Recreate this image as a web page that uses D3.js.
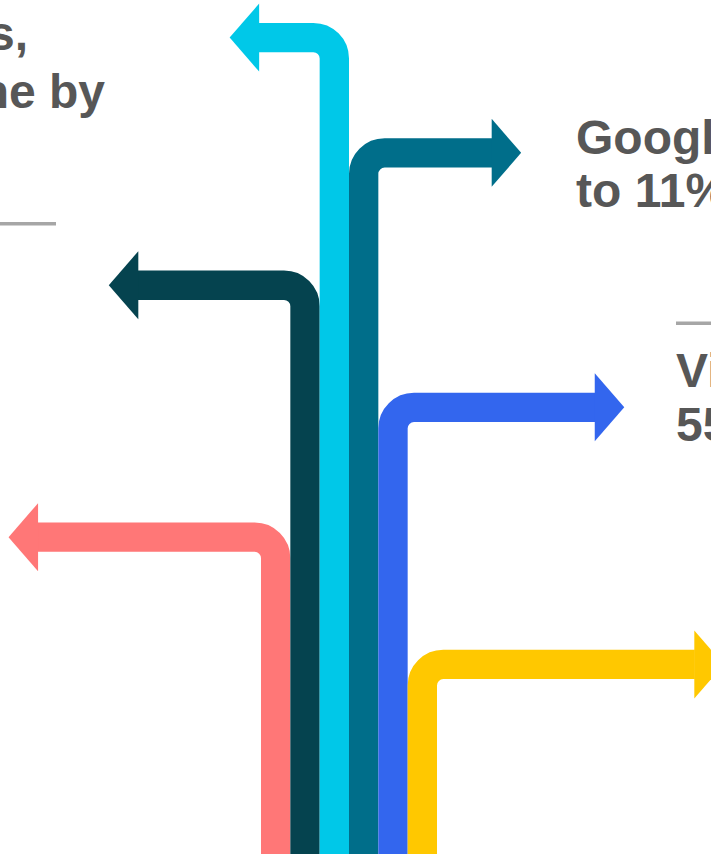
<!DOCTYPE html>
<html lang="en">
<head>
	<meta charset="UTF-8">
	<title>Branching arrows</title>
	<script src="https://cdn.jsdelivr.net/npm/d3@7"></script>
	<style>
		body { margin: 0; background: #fff; }
		svg { display: block; }
		.label { font-family: "Liberation Sans", Arial, sans-serif; font-weight: bold; font-size: 48px; fill: #575757; }
	</style>
</head>
<body>
<svg width="711" height="854"></svg>
<script>
	// arrows, left to right by stem
	const arrows = ["pink", "dark", "cyan", "teal", "blue", "yellow"];
	const colors = ["#FF7777", "#05434F", "#00C8E8", "#006E8A", "#3366EE", "#FFC800"];
	// height of the turn, 0 = bottom, 100 = top
	const turnLevel = [37.1, 66.6, 95.6, 82.1, 52.3, 22.2];
	// where the arrow tip ends, % of width
	const tipAt = [1.2, 15.3, 32.3, 73.3, 87.8, 101.8];

	// text blocks (partly cut by the edge of the picture)
	const textLeft = ["s,", "ne by"];
	const textRight1 = ["Google", "to 11%"];
	const textRight2 = ["Vi", "55"];

	const width = 711, height = 854;
	const svg = d3.select("svg");

	const x = d3.scaleBand().domain(arrows).range([261, 437]).padding(0);
	const y = d3.scaleLinear().domain([0, 100]).range([height, 0]);
	const xp = d3.scaleLinear().domain([0, 100]).range([0, width]);

	const w = x.bandwidth();
	const r = 21;          // centre-line radius of the bend
	const headHalf = 34;   // half height of the arrow head
	const headDepth = 29.5;

	const data = arrows.map((k, i) => ({
		key: k, color: colors[i], level: turnLevel[i], tip: tipAt[i]
	}));

	const g = svg.selectAll("g.arrow")
		.data(data)
		.enter()
		.append("g")
		.attr("class", "arrow");

	g.append("path")
		.attr("fill", "none")
		.attr("stroke", d => d.color)
		.attr("stroke-width", w)
		.attr("d", d => {
			const cx = x(d.key) + w / 2;
			const cy = y(d.level);
			const tipX = xp(d.tip);
			const dir = tipX < cx ? -1 : 1;
			const baseX = tipX - dir * headDepth;
			const p = d3.path();
			p.moveTo(cx, height + 10);
			p.lineTo(cx, cy + r);
			p.arcTo(cx, cy, cx + dir * r, cy, r);
			p.lineTo(baseX + dir * 0.5, cy);
			return p.toString();
		});

	g.append("path")
		.attr("fill", d => d.color)
		.attr("d", d => {
			const cx = x(d.key) + w / 2;
			const cy = y(d.level);
			const tipX = xp(d.tip);
			const dir = tipX < cx ? -1 : 1;
			const baseX = tipX - dir * headDepth;
			return `M${baseX},${cy - headHalf}L${tipX},${cy}L${baseX},${cy + headHalf}Z`;
		});

	// thin grey rules
	svg.append("rect").attr("x", 0).attr("y", 222).attr("width", 56).attr("height", 3.5).attr("fill", "#A6A6A6");
	svg.append("rect").attr("x", 676).attr("y", 321.5).attr("width", 40).attr("height", 3.5).attr("fill", "#A6A6A6");

	// text
	svg.append("g").selectAll("text")
		.data(textLeft)
		.enter()
		.append("text")
		.attr("class", "label")
		.attr("text-anchor", "end")
		.attr("x", (d, i) => i === 0 ? 28 : 105)
		.attr("y", (d, i) => i === 0 ? 50 : 108)
		.text(d => d);

	svg.append("g").selectAll("text")
		.data(textRight1)
		.enter()
		.append("text")
		.attr("class", "label")
		.attr("x", 576)
		.attr("y", (d, i) => 154 + i * 53)
		.text(d => d);

	svg.append("g").selectAll("text")
		.data(textRight2)
		.enter()
		.append("text")
		.attr("class", "label")
		.attr("x", 676)
		.attr("y", (d, i) => 387 + i * 54)
		.text(d => d);
</script>
</body>
</html>
